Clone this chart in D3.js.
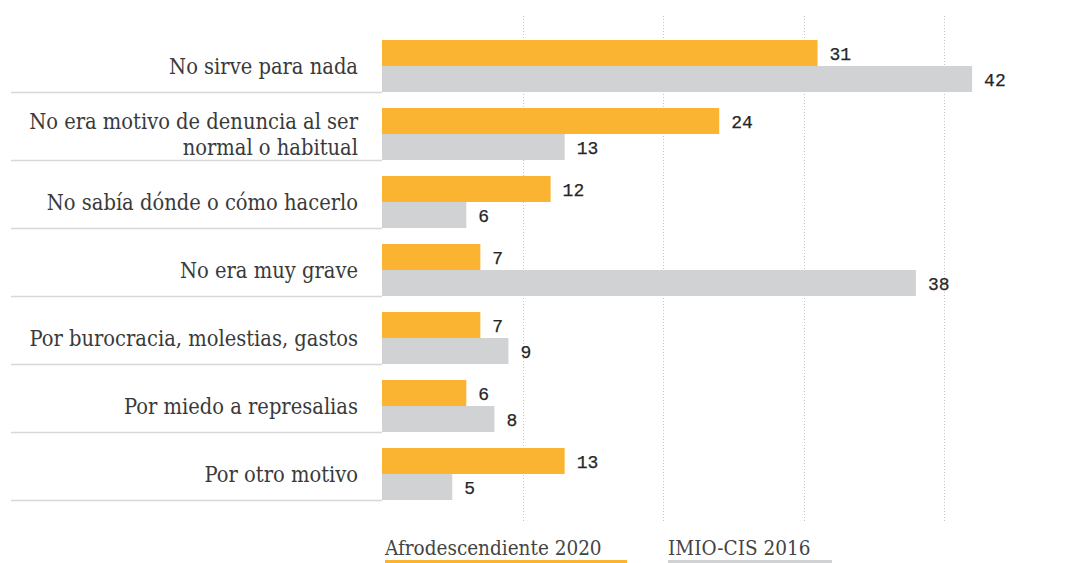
<!DOCTYPE html>
<html>
<head>
<meta charset="utf-8">
<script src="https://cdn.jsdelivr.net/npm/d3@7"></script>
<style>
  html, body { margin: 0; padding: 0; background: #fff; }
  svg { display: block; }
</style>
</head>
<body>
<svg id="chart" width="1071" height="563"></svg>
<script>
// Reasons for not reporting, percentage by survey
const categories = [
  ["No sirve para nada"],
  ["No era motivo de denuncia al ser", "normal o habitual"],
  ["No sabía dónde o cómo hacerlo"],
  ["No era muy grave"],
  ["Por burocracia, molestias, gastos"],
  ["Por miedo a represalias"],
  ["Por otro motivo"]
];
const afro2020 = [31, 24, 12, 7, 7, 6, 13];
const imio2016 = [42, 13, 6, 38, 9, 8, 5];
const seriesNames = ["Afrodescendiente 2020", "IMIO-CIS 2016"];
const seriesColors = ["#fbb432", "#d1d2d4"];
const gridTicks = [10, 20, 30, 40];

const svg = d3.select("#chart");
const labelFont = "'DejaVu Serif Condensed', 'DejaVu Serif', serif";
const numFont = "'Liberation Mono', monospace";

const keys = categories.map(c => c.join(" "));
const rows = keys.map((k, i) => ({ key: k, lines: categories[i], values: [afro2020[i], imio2016[i]] }));

const x = d3.scaleLinear().domain([0, 40]).range([382, 944]);
const y = d3.scaleBand().domain(keys).range([40, 500]).paddingInner(16 / 68).paddingOuter(0);
const ySub = d3.scaleBand().domain([0, 1]).range([0, y.bandwidth()]);

// dotted vertical gridlines
svg.append("g")
  .selectAll("line")
  .data(gridTicks)
  .join("line")
  .attr("x1", d => Math.round(x(d)) + 0.5)
  .attr("x2", d => Math.round(x(d)) + 0.5)
  .attr("y1", 16)
  .attr("y2", 523)
  .attr("stroke", "#c4c4c4")
  .attr("stroke-width", 1)
  .attr("stroke-dasharray", "1,2");

const row = svg.append("g")
  .selectAll("g")
  .data(rows)
  .join("g")
  .attr("transform", d => `translate(0,${y(d.key)})`);

// separator under each category label
row.append("line")
  .attr("x1", 11)
  .attr("x2", x(0))
  .attr("y1", y.bandwidth() + 0.5)
  .attr("y2", y.bandwidth() + 0.5)
  .attr("stroke", "#d8d8d8")
  .attr("stroke-width", 1.5);

// category labels, right aligned
row.append("text")
  .attr("text-anchor", "end")
  .attr("font-family", labelFont)
  .attr("font-size", 21.7)
  .attr("fill", "#3a3a3a")
  .each(function (d) {
    const t = d3.select(this);
    const n = d.lines.length;
    d.lines.forEach((line, i) => {
      t.append("tspan")
        .attr("x", 358)
        .attr("y", y.bandwidth() / 2 + (i - (n - 1) / 2) * 26)
        .attr("dy", "0.35em")
        .text(line);
    });
  });

// bars
row.selectAll("rect.bar")
  .data(d => d.values.map((v, i) => ({ v, i })))
  .join("rect")
  .attr("class", "bar")
  .attr("x", x(0))
  .attr("y", d => ySub(d.i))
  .attr("width", d => x(d.v) - x(0))
  .attr("height", ySub.bandwidth())
  .attr("fill", d => seriesColors[d.i]);

// value labels
row.selectAll("text.val")
  .data(d => d.values.map((v, i) => ({ v, i })))
  .join("text")
  .attr("class", "val")
  .attr("x", d => x(d.v) + 12)
  .attr("y", d => ySub(d.i) + ySub.bandwidth() / 2 + 1)
  .attr("dy", "0.35em")
  .attr("font-family", numFont)
  .attr("font-size", 18)
  .attr("fill", "#262626")
  .attr("stroke", "#262626")
  .attr("stroke-width", 0.25)
  .text(d => d.v);

// legend
const legendX = [385, 668];
const legendW = [242, 164];
const legend = svg.append("g")
  .selectAll("g")
  .data(seriesNames)
  .join("g")
  .attr("transform", (d, i) => `translate(${legendX[i]},0)`);

legend.append("text")
  .attr("x", 0)
  .attr("y", 555)
  .attr("font-family", labelFont)
  .attr("font-size", 20.5)
  .attr("fill", "#444")
  .text(d => d);

legend.append("rect")
  .attr("x", 0)
  .attr("y", 560)
  .attr("width", (d, i) => legendW[i])
  .attr("height", 3)
  .attr("fill", (d, i) => seriesColors[i]);
</script>
</body>
</html>
